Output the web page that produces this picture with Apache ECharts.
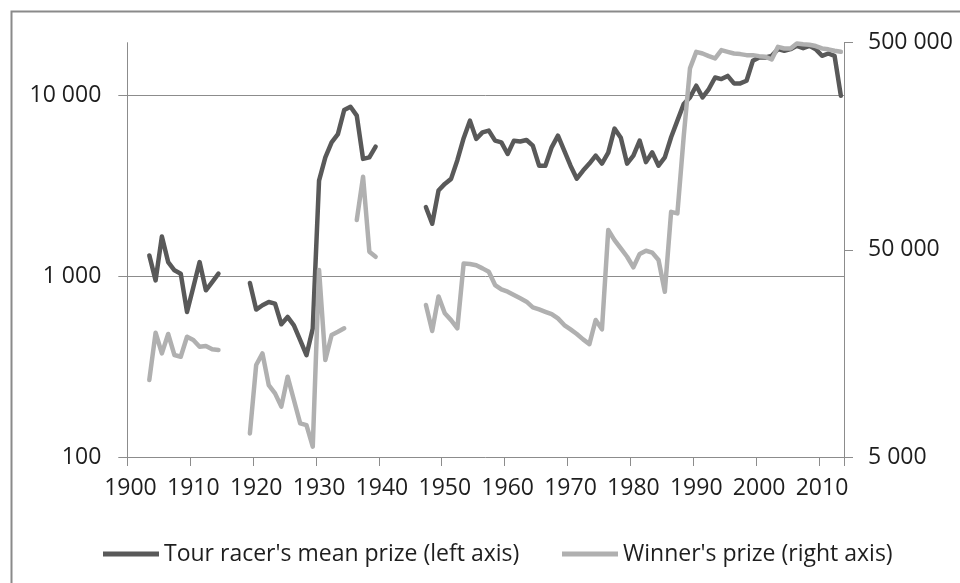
<!DOCTYPE html>
<html>
<head>
<meta charset="utf-8">
<script src="https://cdn.jsdelivr.net/npm/echarts@6/dist/echarts.min.js"></script>
<style>
html,body{margin:0;padding:0;background:#fff;}
#chart{width:960px;height:583px;}
</style>
</head>
<body>
<div id="chart"></div>
<script>
// Categories: years 1900-2013
const years = [
  1900,1901,1902,1903,1904,1905,1906,1907,1908,1909,
  1910,1911,1912,1913,1914,1915,1916,1917,1918,1919,
  1920,1921,1922,1923,1924,1925,1926,1927,1928,1929,
  1930,1931,1932,1933,1934,1935,1936,1937,1938,1939,
  1940,1941,1942,1943,1944,1945,1946,1947,1948,1949,
  1950,1951,1952,1953,1954,1955,1956,1957,1958,1959,
  1960,1961,1962,1963,1964,1965,1966,1967,1968,1969,
  1970,1971,1972,1973,1974,1975,1976,1977,1978,1979,
  1980,1981,1982,1983,1984,1985,1986,1987,1988,1989,
  1990,1991,1992,1993,1994,1995,1996,1997,1998,1999,
  2000,2001,2002,2003,2004,2005,2006,2007,2008,2009,
  2010,2011,2012,2013
];

// Tour racer's mean prize (left axis)
const meanPrize = [
  null,null,null,1306,950,1663,1200,1080,1035,635,
  870,1200,837,930,1035,null,null,null,null,919,
  655,692,721,707,543,596,536,443,366,515,
  3390,4560,5520,6135,8340,8690,7760,4470,4560,5230,
  null,null,null,null,null,null,null,2415,1955,2985,
  3250,3465,4395,5820,7280,5770,6270,6410,5640,5520,
  4760,5640,5580,5690,5290,4100,4100,5180,6010,4970,
  4100,3475,3850,4210,4660,4210,4840,6580,5860,4210,
  4660,5640,4290,4860,4100,4560,5890,7280,8990,9790,
  11360,9790,10890,12620,12360,12880,11700,11700,12100,15600,
  16280,16280,16630,18110,17740,18110,18880,18340,18880,18110,
  16630,17130,16630,10000
];

// Winner's prize (right axis)
const winnerPrize = [
  null,null,null,11770,19900,15820,19620,15530,15240,19030,
  18350,17030,17170,16560,16420,null,null,null,null,6500,
  13900,15820,11120,10140,8750,12210,9420,7270,7130,5610,
  40000,14690,19400,20100,20900,null,69650,112700,49000,46300,
  null,null,null,null,null,null,null,27080,20300,29800,
  24700,22900,20900,43000,42700,42100,40700,39200,33800,32200,
  31400,30270,29180,28100,26400,25800,25120,24490,23340,21680,
  20660,19620,18490,17540,22920,20660,62300,55700,50800,46300,
  41200,47800,49500,48500,44650,31400,76300,75000,175800,375700,
  451700,443500,430600,419700,460400,451700,443500,440500,435500,435500,
  430600,427500,415000,477600,469000,469000,496000,492000,489000,481700,
  469000,464500,457000,451700
];

const leftTicks = [100, 1000, 10000];
const rightTicks = [5000, 50000, 500000];
const seriesNames = ["Tour racer's mean prize (left axis)", "Winner's prize (right axis)"];

const FONT = 'Open Sans';
const TXT = '#1e1e1e';
const AXIS = '#8c8c8c';
const DARK = '#595959';
const LIGHT = '#b0b0b0';

function fmt(v) {
  return String(Math.round(v)).replace(/\B(?=(\d{3})+(?!\d))/g, ' ');
}

const chart = echarts.init(document.getElementById('chart'), null, {renderer: 'canvas'});
chart.setOption({
  animation: false,
  backgroundColor: '#fff',
  textStyle: {fontFamily: FONT, color: TXT},
  graphic: [{
    type: 'rect', silent: true, z: -10,
    shape: {x: 11.5, y: 11.5, width: 1000, height: 700},
    style: {fill: 'none', stroke: '#8a8a8a', lineWidth: 2}
  }],
  grid: {left: 127.3, right: 116, top: 42.7, bottom: 126, containLabel: false},
  legend: [
    {
      data: [seriesNames[0]], left: 98, top: 535,
      icon: 'rect', itemWidth: 56, itemHeight: 5,
      textStyle: {fontFamily: FONT, fontSize: 23, color: TXT, lineHeight: 28}
    },
    {
      data: [seriesNames[1]], left: 557, top: 535,
      icon: 'rect', itemWidth: 56, itemHeight: 5,
      textStyle: {fontFamily: FONT, fontSize: 23, color: TXT, lineHeight: 28}
    }
  ],
  xAxis: {
    type: 'category',
    data: years,
    boundaryGap: true,
    axisLine: {show: true, lineStyle: {color: AXIS, width: 1}},
    axisTick: {show: true, interval: 9, length: 9, lineStyle: {color: AXIS}},
    axisLabel: {interval: 9, margin: 20, fontSize: 23, color: TXT, fontFamily: FONT},
    splitLine: {show: false}
  },
  yAxis: [
    {
      type: 'log', logBase: 10, min: 100, max: 19660, position: 'left',
      axisLine: {show: true, lineStyle: {color: AXIS, width: 1}},
      axisTick: {show: true, length: 9, customValues: leftTicks, lineStyle: {color: AXIS}},
      axisLabel: {customValues: leftTicks, margin: 26, fontSize: 23, color: TXT, fontFamily: FONT,
        formatter: v => fmt(v)},
      splitLine: {show: true, showMinLine: false, showMaxLine: true, lineStyle: {color: AXIS, width: 1}}
    },
    {
      type: 'log', logBase: 10, min: 5000, max: 500000, position: 'right',
      axisLine: {show: true, lineStyle: {color: AXIS, width: 1}},
      axisTick: {show: true, length: 9, customValues: rightTicks, lineStyle: {color: AXIS}},
      axisLabel: {customValues: rightTicks, margin: 24, fontSize: 23, color: TXT, fontFamily: FONT,
        formatter: v => fmt(v)},
      splitLine: {show: false}
    }
  ],
  series: [
    {
      name: seriesNames[0], type: 'line', yAxisIndex: 0, data: meanPrize,
      showSymbol: false, symbol: 'none', connectNulls: false,
      color: DARK,
      lineStyle: {color: DARK, width: 4.5, cap: 'round', join: 'round'}
    },
    {
      name: seriesNames[1], type: 'line', yAxisIndex: 1, data: winnerPrize,
      showSymbol: false, symbol: 'none', connectNulls: false,
      color: LIGHT,
      lineStyle: {color: LIGHT, width: 4.5, cap: 'round', join: 'round'}
    }
  ]
});
</script>
</body>
</html>
